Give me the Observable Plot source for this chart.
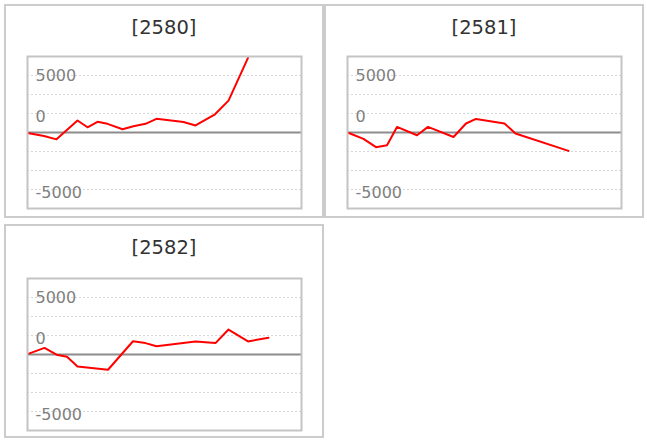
<!DOCTYPE html>
<html>
<head>
<meta charset="utf-8">
<script src="https://cdn.jsdelivr.net/npm/d3@7"></script>
<script src="https://cdn.jsdelivr.net/npm/@observablehq/plot@0.6"></script>
<style>
  html, body { margin: 0; padding: 0; background: #fff; }
  body { width: 647px; height: 445px; position: relative; overflow: hidden; font-family: "DejaVu Sans", Verdana, sans-serif; }
  .panel { position: absolute; width: 316px; height: 210px; border: 2px solid #cccccc; background: #fff; }
  .title { height: 44px; line-height: 43px; text-align: center; font-size: 19.5px; color: #333; }
  .panel svg { display: block; }
</style>
</head>
<body>
<script>
// Series titles
const titles = ["[2580]", "[2581]", "[2582]"];

// Shared x position (time index along the axis) and y domain
const xDomain = [0, 274];
const yDomain = [-6667, 6667];

// Series 2580
const x2580 = [0, 16.5, 29, 50, 60, 70, 80, 95, 106, 118, 129, 156, 168, 187.5, 201, 220.5];
const y2580 = [-50, -300, -600, 1050, 460, 940, 760, 290, 550, 760, 1200, 920, 615, 1600, 2800, 6550];

// Series 2581
const x2581 = [0, 16, 28.5, 39.5, 49.5, 69.5, 80.5, 106, 118.5, 128.5, 157, 168, 221];
const y2581 = [0, -560, -1290, -1110, 490, -240, 490, -390, 790, 1190, 790, -90, -1610];

// Series 2582
const x2582 = [0, 17, 29, 39.5, 50, 80.5, 105.5, 118, 129, 168, 188, 201, 220.5, 241];
const y2582 = [30, 580, -20, -200, -1050, -1340, 1160, 1000, 720, 1150, 1000, 2190, 1150, 1470];

// Axis ticks / gridlines
const yTickValues = [5000, 0, -5000];
const yTickLabels = ["5000", "0", "-5000"];
const gridValues = [5000, 10000 / 3, 5000 / 3, -5000 / 3, -10000 / 3, -5000];

const series = [
  {title: titles[0], xs: x2580, ys: y2580, left: 4, top: 4, mt: 6},
  {title: titles[1], xs: x2581, ys: y2581, left: 324, top: 4, mt: 6},
  {title: titles[2], xs: x2582, ys: y2582, left: 4, top: 224, mt: 8}
];

const labelDy = [0, -15.5, 3.7];

for (const s of series) {
  const data = s.xs.map((x, i) => ({x, y: s.ys[i]}));
  const panel = document.createElement("div");
  panel.className = "panel";
  panel.style.left = s.left + "px";
  panel.style.top = s.top + "px";
  const t = document.createElement("div");
  t.className = "title";
  t.textContent = s.title;
  panel.append(t);

  const labelMarks = yTickValues.map((v, i) =>
    Plot.text([v], {
      y: d => d,
      text: () => yTickLabels[i],
      frameAnchor: "left",
      textAnchor: "start",
      dx: 8,
      dy: labelDy[i],
      fill: "#808080",
      fontSize: 16
    })
  );

  const svg = Plot.plot({
    width: 316,
    height: 166,
    marginLeft: 21,
    marginRight: 21,
    marginTop: s.mt,
    marginBottom: 14 - s.mt,
    x: {domain: xDomain, axis: null},
    y: {domain: yDomain, axis: null},
    style: {fontFamily: "DejaVu Sans", background: "transparent", overflow: "visible"},
    marks: [
      Plot.ruleY(gridValues, {stroke: "#d6d6d6", strokeDasharray: "2,2", strokeWidth: 1}),
      Plot.ruleY([0], {stroke: "#8c8c8c", strokeWidth: 2}),
      ...labelMarks,
      Plot.line(data, {x: "x", y: "y", stroke: "#ff0000", strokeWidth: 2, clip: true}),
      Plot.frame({stroke: "#c4c4c4", strokeWidth: 2})
    ]
  });
  panel.append(svg);
  document.body.append(panel);
}
</script>
</body>
</html>
